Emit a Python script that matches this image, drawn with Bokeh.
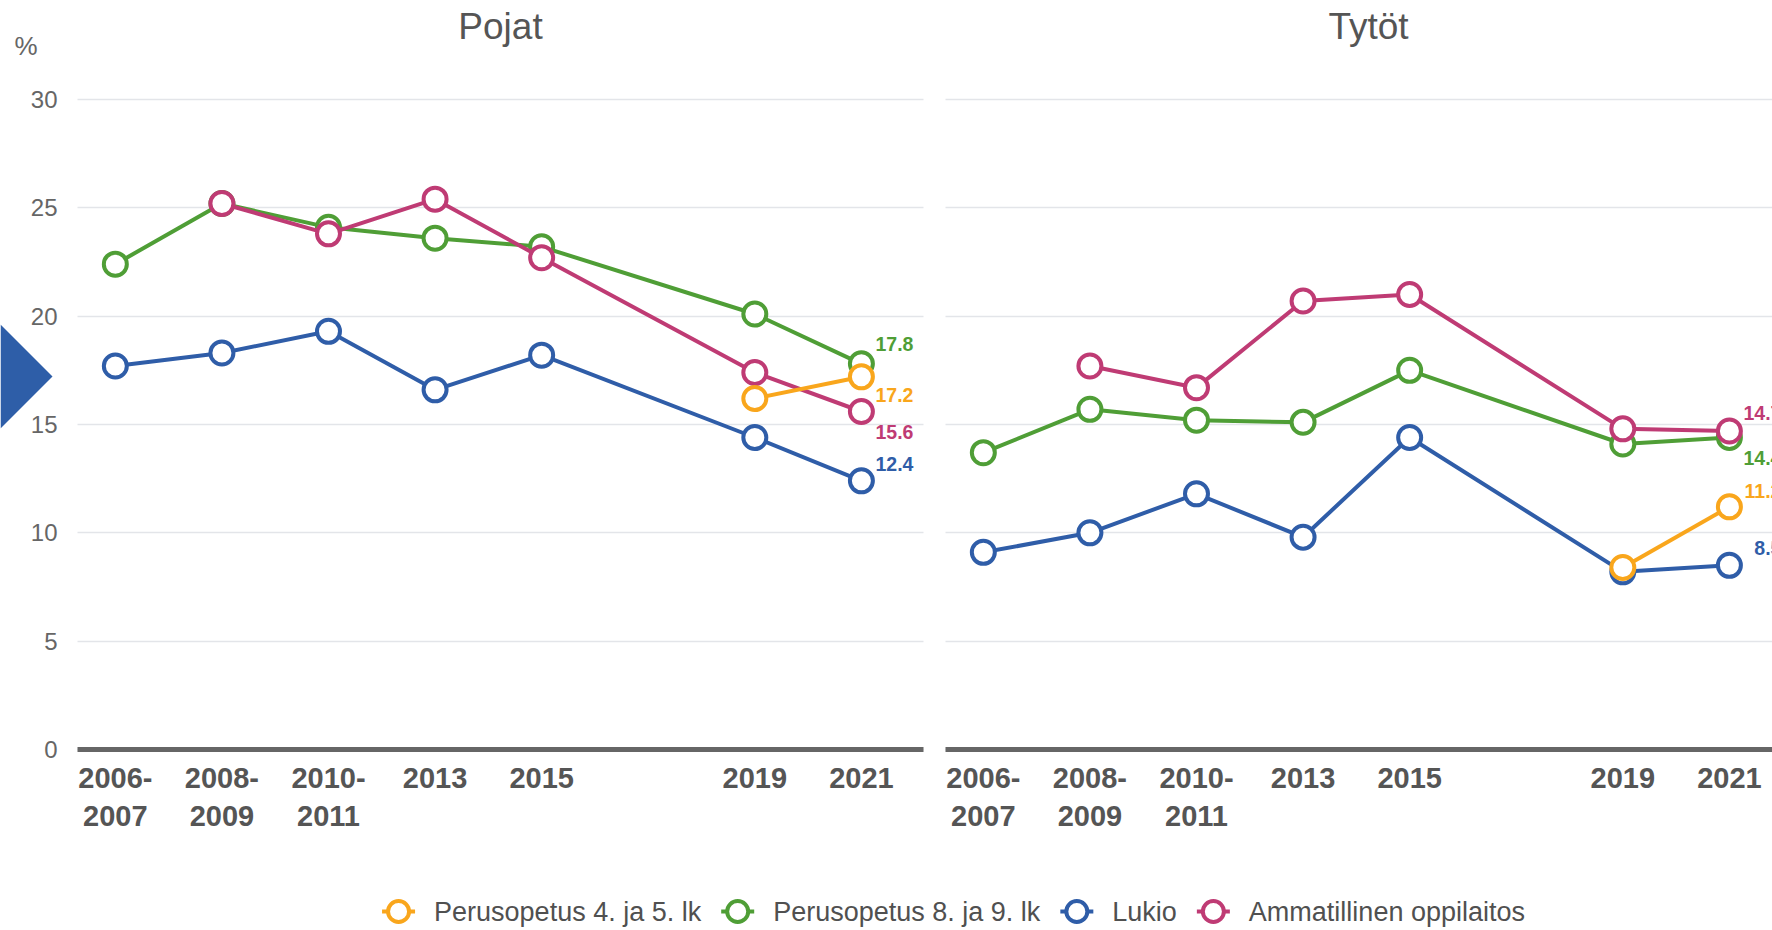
import numpy as np
from bokeh.plotting import figure
from bokeh.layouts import row, column
from bokeh.models import (Range1d, FixedTicker, Grid, PolyAnnotation,
                          ColumnDataSource, LinearAxis)
from bokeh.embed import file_html
from bokeh.resources import INLINE
from bokeh.core.properties import value

nan = float("nan")

# ---------------- data ----------------
years = [2007, 2009, 2011, 2013, 2015, 2019, 2021]
year_labels = ["2006-\n2007", "2008-\n2009", "2010-\n2011", "2013", "2015", "2019", "2021"]
y_ticks = [0, 5, 10, 15, 20, 25, 30]
panel_titles = ["Pojat", "Tytöt"]
series_names = ["Perusopetus 4. ja 5. lk", "Perusopetus 8. ja 9. lk", "Lukio", "Ammatillinen oppilaitos"]

pojat_4_5 = [nan, nan, nan, nan, nan, 16.2, 17.2]
pojat_8_9 = [22.4, 25.2, 24.1, 23.6, 23.2, 20.1, 17.8]
pojat_lukio = [17.7, 18.3, 19.3, 16.6, 18.2, 14.4, 12.4]
pojat_amm = [nan, 25.2, 23.8, 25.4, 22.7, 17.4, 15.6]

tytot_4_5 = [nan, nan, nan, nan, nan, 8.4, 11.2]
tytot_8_9 = [13.7, 15.7, 15.2, 15.1, 17.5, 14.1, 14.4]
tytot_lukio = [9.1, 10.0, 11.8, 9.8, 14.4, 8.2, 8.5]
tytot_amm = [nan, 17.7, 16.7, 20.7, 21.0, 14.8, 14.7]

# ---------------- styles ----------------
colors = ["#F9A61C", "#4F9E36", "#2F5DA8", "#BF3B74"]
draw_order = [1, 2, 3, 0]
label_offsets_pojat = [18, -20, -17, 20]
label_offsets_tytot = [-16, 20, -17, -18]
FONT = "Liberation Sans"

# layout in page pixels (page has no margin)
PAGE_W, PAGE_H = 1772, 930
SPLIT = 934                       # border between the two figures
PANEL_L = [77, 945]               # plot-area left edge of each panel
PANEL_W = 846
FRAME_BOT = 749                   # y of value 0
PX_PER_UNIT = 650 / 30.0
X_START = 2006.29                 # value at the plot-area left edge
PX_PER_YEAR = 53.29
FIG_H = 886


def make_panel(k, title, series, offsets, fig_left, fig_right):
    FL = PANEL_L[k]

    def xd(px):
        return X_START + (px - FL) / PX_PER_YEAR

    def yd(py):
        return (FRAME_BOT - py) / PX_PER_UNIT

    p = figure(width=fig_right - fig_left, height=FIG_H,
               x_range=Range1d(xd(fig_left), xd(fig_right)),
               y_range=Range1d(yd(FIG_H), yd(0)), toolbar_location=None, output_backend="svg",
               min_border_left=0, min_border_right=0, min_border_top=0, min_border_bottom=0,
               x_axis_location=None, y_axis_location=None)
    p.outline_line_color = None
    p.xgrid.visible = False
    p.ygrid.visible = False
    x_bounds = (xd(FL), xd(FL + PANEL_W))
    p.add_layout(Grid(dimension=1, ticker=FixedTicker(ticks=y_ticks), cross_bounds=x_bounds,
                      grid_line_color="#e3e5e9", grid_line_width=1.5))
    if k == 0:
        ax = LinearAxis(ticker=FixedTicker(ticks=y_ticks), fixed_location=xd(FL),
                        axis_line_color=None, major_tick_line_color=None,
                        minor_tick_line_color=None, major_tick_out=0, major_tick_in=0,
                        major_label_text_font_size="24px", major_label_text_color="#666666",
                        major_label_text_font=FONT, major_label_standoff=20)
        p.add_layout(ax, "left")
        p.text(x=[xd(14)], y=[yd(45)], text=["%"], text_align="left",
               text_baseline="middle", text_font=value(FONT),
               text_font_size=value("26px"), text_color="#666666")
        p.add_layout(PolyAnnotation(xs=[xd(0), xd(52), xd(0)],
                                    ys=[yd(324), yd(376), yd(428)],
                                    fill_color="#2E5EA8", fill_alpha=1.0, line_color=None))
    xa = LinearAxis(ticker=FixedTicker(ticks=years), fixed_location=0, bounds=x_bounds,
                    major_label_overrides={y: lab for y, lab in zip(years, year_labels)},
                    axis_line_width=5, axis_line_color="#666666",
                    major_tick_line_color=None, minor_tick_line_color=None,
                    major_tick_out=0, major_tick_in=0, major_label_standoff=12,
                    major_label_text_font=FONT, major_label_text_font_style="bold",
                    major_label_text_font_size="29px", major_label_text_color="#555555")
    p.add_layout(xa, "below")

    p.text(x=[xd(FL + PANEL_W / 2)], y=[yd(25.5)], text=[title], text_align="center",
           text_baseline="middle", text_font=value(FONT),
           text_font_size=value("37px"), text_color="#555555")

    for i in draw_order:
        vals = np.array(series[i], dtype=float)
        c = colors[i]
        p.line(years, vals, line_color=c, line_width=4)
        p.scatter(years, vals, marker="circle", size=23, fill_color="white",
                  line_color=c, line_width=4)
        src = ColumnDataSource(dict(x=[years[-1]], y=[vals[-1]], t=[f"{vals[-1]:.1f}"]))
        p.text(x="x", y="y", text="t", source=src, x_offset=52, y_offset=offsets[i],
               text_align="right", text_baseline="middle",
               text_font=value(FONT), text_font_style="bold",
               text_font_size=value("19.5px"), text_color=c)
    return p


p1 = make_panel(0, panel_titles[0], [pojat_4_5, pojat_8_9, pojat_lukio, pojat_amm],
                label_offsets_pojat, 0, SPLIT)
p2 = make_panel(1, panel_titles[1], [tytot_4_5, tytot_8_9, tytot_lukio, tytot_amm],
                label_offsets_tytot, SPLIT, PAGE_W)

# ---------------- legend (own strip) ----------------
LEG_H = PAGE_H - FIG_H
CW = {"P": .667, "e": .556, "r": .333, "u": .556, "s": .5, "o": .556, "p": .556,
      "t": .278, " ": .278, ".": .278, "j": .222, "a": .556, "l": .222, "k": .5,
      "L": .556, "i": .222, "A": .667, "m": .833, "n": .556}
LEG_FS = 27
GLYPH_W, STANDOFF, SPACING = 33, 19, 20
LEG_CX, LEG_CY = 953, 911


def tw(s):
    return sum(CW.get(ch, .556) for ch in s) * LEG_FS


widths = [GLYPH_W + STANDOFF + tw(s) for s in series_names]
total = sum(widths) + SPACING * (len(widths) - 1)
x = LEG_CX - total / 2
yc = PAGE_H - LEG_CY
lx0, lx1, mx, tx = [], [], [], []
for w in widths:
    lx0.append(x)
    lx1.append(x + GLYPH_W)
    mx.append(x + GLYPH_W / 2)
    tx.append(x + GLYPH_W + STANDOFF)
    x += w + SPACING

p3 = figure(width=PAGE_W, height=LEG_H, x_range=Range1d(0, PAGE_W), y_range=Range1d(0, LEG_H),
            toolbar_location=None, output_backend="svg", min_border=0,
            x_axis_location=None, y_axis_location=None)
p3.outline_line_color = None
p3.xgrid.visible = False
p3.ygrid.visible = False
lsrc = ColumnDataSource(dict(x0=lx0, x1=lx1, mx=mx, tx=tx, y=[yc] * 4, c=colors, name=series_names))
p3.segment(x0="x0", y0="y", x1="x1", y1="y", line_color="c", line_width=4, source=lsrc)
p3.scatter(x="mx", y="y", marker="circle", size=21, fill_color="white", line_color="c",
           line_width=4, source=lsrc)
p3.text(x="tx", y="y", text="name", source=lsrc, text_align="left", text_baseline="middle",
        text_font=value(FONT), text_font_size=value(f"{LEG_FS}px"), text_color="#505050")

layout = column(row(p1, p2), p3)
open("out.html", "w").write(file_html(layout, INLINE))
